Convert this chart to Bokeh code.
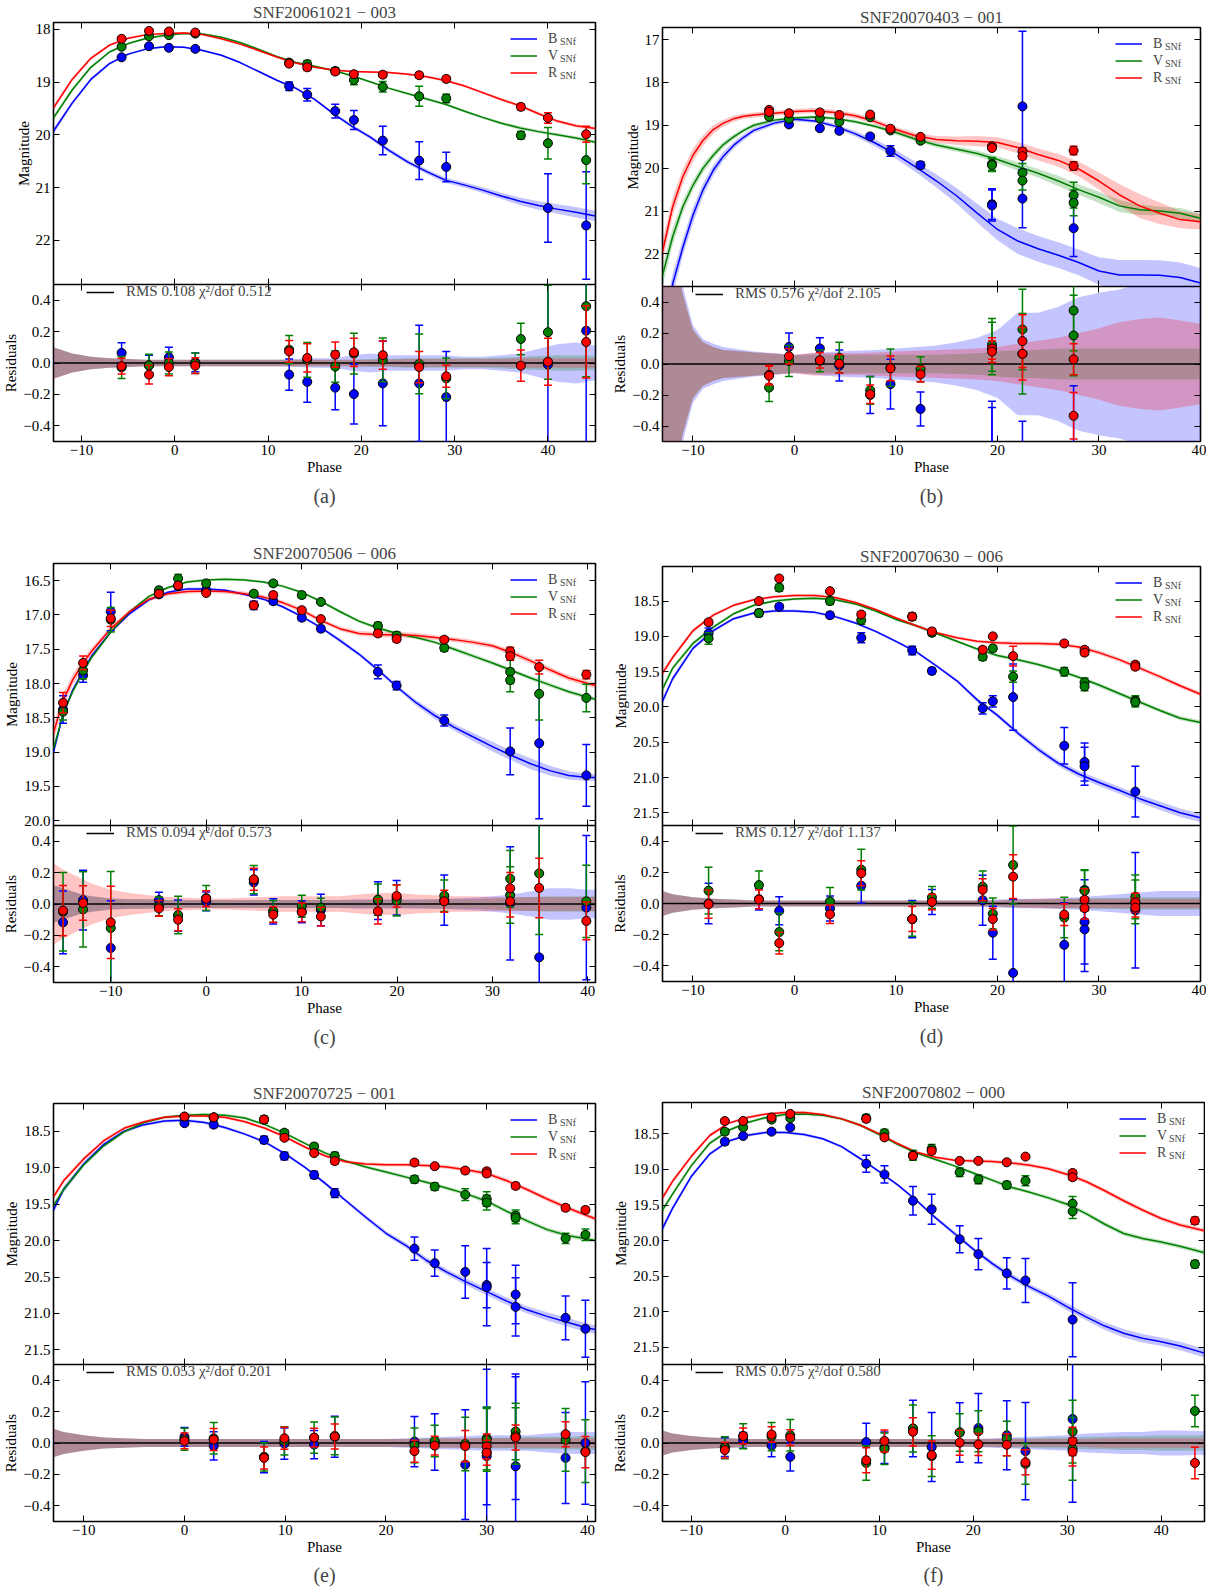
from bokeh.plotting import figure
from bokeh.models import Range1d, FixedTicker, LinearAxis, Legend, LegendItem, Title
from bokeh.layouts import row, column
from bokeh.embed import file_html
from bokeh.resources import INLINE

FONT = "Liberation Serif"
BLUE, GREEN, RED = "#0000ff", "#008000", "#ff0000"

X_TICKS = [-10, 0, 10, 20, 30, 40]
RES_TICKS = [-0.4, -0.2, 0.0, 0.2, 0.4]
RES_RANGE = [-0.5, 0.5]
BAND_LETTERS = ["B", "V", "R"]
BAND_SUB = "SNf"

# ---------------- panel (a) ----------------
A_NAME = "SNF20061021 \u2212 003"
A_STAT = "RMS 0.108 \u03c7\u00b2/dof 0.512"
A_XR = [-13.0, 45.1]
A_YR = [22.84, 17.87]
A_YT = [18, 19, 20, 21, 22]
A_B_PH = [-5.7, -2.76, -0.63, 2.2, 12.26, 14.2, 17.2, 19.2, 22.3, 26.2, 29.1, 40.0, 44.1]
A_B_MAG = [18.53, 18.32, 18.35, 18.37, 19.08, 19.24, 19.55, 19.72, 20.11, 20.49, 20.61, 21.39, 21.72]
A_B_ERR = [0.04, 0.04, 0.04, 0.04, 0.08, 0.12, 0.13, 0.18, 0.27, 0.36, 0.28, 0.65, 1.02]
A_B_RES = [0.064, -0.015, 0.036, 0.004, -0.074, -0.12, -0.157, -0.198, -0.13, -0.13, -0.217, -0.01, 0.206]
A_B_RERR = [0.065, 0.065, 0.065, 0.06, 0.1, 0.13, 0.14, 0.19, 0.27, 0.37, 0.29, 0.65, 1.0]
A_V_PH = [-5.7, -2.76, -0.63, 2.2, 12.26, 14.2, 17.2, 19.2, 22.3, 26.2, 29.1, 37.1, 40.0, 44.1]
A_V_MAG = [18.33, 18.13, 18.11, 18.08, 18.63, 18.66, 18.79, 18.96, 19.09, 19.27, 19.31, 20.01, 20.16, 20.48]
A_V_ERR = [0.03, 0.03, 0.03, 0.03, 0.05, 0.07, 0.06, 0.09, 0.1, 0.19, 0.08, 0.07, 0.3, 0.45]
A_V_RES = [-0.028, -0.015, 0.0, -0.002, 0.085, 0.02, -0.023, 0.06, 0.02, -0.006, -0.098, 0.153, 0.196, 0.362]
A_V_RERR = [0.07, 0.07, 0.07, 0.065, 0.09, 0.11, 0.1, 0.13, 0.14, 0.19, 0.13, 0.1, 0.3, 0.45]
A_R_PH = [-5.7, -2.76, -0.63, 2.2, 12.26, 14.2, 17.2, 19.2, 22.3, 26.2, 29.1, 37.1, 40.0, 44.1]
A_R_MAG = [18.18, 18.03, 18.04, 18.06, 18.65, 18.72, 18.80, 18.85, 18.86, 18.87, 18.94, 19.47, 19.68, 19.99]
A_R_ERR = [0.03, 0.03, 0.03, 0.03, 0.05, 0.06, 0.05, 0.05, 0.05, 0.05, 0.05, 0.06, 0.1, 0.15]
A_R_RES = [-0.02, -0.074, -0.026, -0.017, 0.074, 0.032, 0.053, 0.068, 0.05, -0.026, -0.085, -0.017, 0.008, 0.134]
A_R_RERR = [0.05, 0.06, 0.055, 0.05, 0.07, 0.09, 0.08, 0.09, 0.09, 0.1, 0.07, 0.1, 0.15, 0.23]
A_GRID = [-13, -11, -9, -7, -5, -3, -1, 1, 3, 5, 7, 9, 11, 13, 15, 17, 19, 21, 23, 25, 27, 29, 31, 33, 35, 37, 39, 41, 43, 45.1]
A_CB = [19.93, 19.4, 18.95, 18.65, 18.47, 18.37, 18.33, 18.34, 18.40, 18.49, 18.63, 18.80, 18.97, 19.12, 19.33, 19.6, 19.84, 20.05, 20.3, 20.52, 20.7, 20.86, 20.95, 21.05, 21.16, 21.26, 21.34, 21.41, 21.47, 21.54]
A_CV = [19.68, 19.15, 18.72, 18.43, 18.27, 18.17, 18.11, 18.08, 18.09, 18.15, 18.25, 18.38, 18.52, 18.63, 18.7, 18.78, 18.88, 19.0, 19.12, 19.22, 19.32, 19.42, 19.55, 19.67, 19.78, 19.87, 19.94, 20.0, 20.06, 20.14]
A_CR = [19.49, 18.95, 18.55, 18.3, 18.17, 18.1, 18.08, 18.07, 18.1, 18.18, 18.28, 18.4, 18.53, 18.64, 18.72, 18.77, 18.8, 18.81, 18.82, 18.85, 18.9, 18.97, 19.07, 19.2, 19.33, 19.45, 19.6, 19.74, 19.83, 19.88]
A_SB = [0.06, 0.04, 0.03, 0.025, 0.02, 0.02, 0.02, 0.02, 0.02, 0.02, 0.02, 0.02, 0.02, 0.025, 0.025, 0.03, 0.03, 0.035, 0.04, 0.04, 0.045, 0.05, 0.05, 0.055, 0.06, 0.07, 0.08, 0.09, 0.1, 0.1]
A_SV = [0.05, 0.04, 0.03, 0.025, 0.02, 0.02, 0.02, 0.02, 0.02, 0.02, 0.02, 0.02, 0.02, 0.02, 0.02, 0.02, 0.02, 0.02, 0.02, 0.02, 0.025, 0.025, 0.025, 0.025, 0.03, 0.03, 0.03, 0.03, 0.03, 0.03]
A_SR = [0.05, 0.04, 0.03, 0.025, 0.02, 0.02, 0.02, 0.02, 0.02, 0.02, 0.02, 0.02, 0.02, 0.02, 0.02, 0.02, 0.02, 0.02, 0.02, 0.02, 0.025, 0.025, 0.025, 0.025, 0.03, 0.03, 0.03, 0.03, 0.03, 0.03]
A_RB = [0.1, 0.06, 0.04, 0.03, 0.025, 0.02, 0.02, 0.02, 0.02, 0.02, 0.02, 0.02, 0.02, 0.025, 0.03, 0.03, 0.05, 0.06, 0.05, 0.05, 0.05, 0.05, 0.04, 0.04, 0.05, 0.06, 0.09, 0.12, 0.13, 0.11]
A_RV = [0.1, 0.06, 0.04, 0.03, 0.025, 0.02, 0.02, 0.02, 0.02, 0.02, 0.02, 0.02, 0.02, 0.02, 0.02, 0.02, 0.02, 0.025, 0.025, 0.03, 0.03, 0.03, 0.03, 0.03, 0.035, 0.04, 0.045, 0.05, 0.05, 0.045]
A_RR = [0.1, 0.06, 0.04, 0.03, 0.025, 0.02, 0.02, 0.02, 0.02, 0.02, 0.02, 0.02, 0.02, 0.02, 0.02, 0.02, 0.02, 0.02, 0.02, 0.025, 0.025, 0.025, 0.025, 0.025, 0.025, 0.03, 0.03, 0.03, 0.03, 0.03]

# ---------------- panel (b) ----------------
B_NAME = "SNF20070403 \u2212 001"
B_STAT = "RMS 0.576 \u03c7\u00b2/dof 2.105"
B_XR = [-13.0, 40.0]
B_YR = [22.76, 16.72]
B_YT = [17, 18, 19, 20, 21, 22]
B_B_PH = [-0.54, 2.5, 4.42, 7.46, 9.46, 12.42, 19.46, 19.46, 22.46, 22.46, 27.5]
B_B_MAG = [18.98, 19.07, 19.13, 19.26, 19.6, 19.93, 20.84, 20.87, 18.56, 20.71, 21.40]
B_B_ERR = [0.03, 0.04, 0.05, 0.06, 0.12, 0.08, 0.36, 0.36, 1.75, 0.68, 0.66]
B_B_RES = [0.11, 0.1, -0.01, -0.2, -0.13, -0.29, -0.62, -0.66, 3.1, -1.05, -0.8]
B_B_RERR = [0.09, 0.07, 0.1, 0.12, 0.16, 0.11, 0.38, 0.38, 1.75, 0.68, 0.66]
B_V_PH = [-2.5, -0.54, 2.5, 4.42, 7.46, 9.46, 12.42, 19.46, 19.46, 22.46, 22.46, 27.5, 27.5]
B_V_MAG = [18.8, 18.85, 18.84, 18.92, 18.81, 19.12, 19.36, 19.90, 19.93, 20.11, 20.29, 20.63, 20.81]
B_V_ERR = [0.03, 0.03, 0.03, 0.03, 0.03, 0.04, 0.04, 0.15, 0.15, 0.22, 0.22, 0.3, 0.3]
B_V_RES = [-0.152, 0.019, 0.02, 0.04, -0.17, -0.024, -0.034, 0.124, 0.1, 0.223, 0.066, 0.345, 0.184]
B_V_RERR = [0.09, 0.1, 0.07, 0.1, 0.09, 0.12, 0.08, 0.17, 0.17, 0.26, 0.26, 0.26, 0.26]
B_R_PH = [-2.5, -2.5, -0.54, 2.5, 4.42, 7.46, 9.46, 12.42, 19.46, 19.46, 22.46, 22.46, 27.5, 27.5]
B_R_MAG = [18.64, 18.69, 18.72, 18.7, 18.76, 18.75, 19.08, 19.27, 19.49, 19.53, 19.61, 19.72, 19.59, 19.95]
B_R_ERR = [0.03, 0.03, 0.03, 0.03, 0.03, 0.04, 0.04, 0.04, 0.05, 0.05, 0.08, 0.08, 0.1, 0.1]
B_R_RES = [-0.07, -0.075, 0.05, 0.024, 0.002, -0.195, -0.028, -0.066, 0.1, 0.08, 0.148, 0.066, 0.03, -0.334]
B_R_RERR = [0.06, 0.06, 0.05, 0.05, 0.06, 0.06, 0.08, 0.05, 0.07, 0.07, 0.17, 0.17, 0.1, 0.15]
B_GRID = [-13, -12, -11, -10, -9, -8, -7, -6, -5, -4, -2, 0, 2, 4, 6, 8, 10, 12, 14, 16, 18, 20, 22, 24, 26, 28, 30, 32, 34, 36, 38, 40]
B_CB = [24.0, 22.7, 21.85, 21.1, 20.5, 20.05, 19.72, 19.47, 19.28, 19.12, 18.95, 18.86, 18.9, 19.02, 19.2, 19.42, 19.68, 19.98, 20.3, 20.65, 21.05, 21.43, 21.7, 21.88, 22.03, 22.2, 22.4, 22.49, 22.49, 22.5, 22.55, 22.68]
B_CV = [22.5, 21.6, 20.9, 20.4, 20.0, 19.7, 19.45, 19.27, 19.12, 19.0, 18.88, 18.83, 18.81, 18.84, 18.92, 19.03, 19.17, 19.33, 19.46, 19.56, 19.66, 19.8, 19.96, 20.12, 20.3, 20.5, 20.68, 20.88, 20.97, 21.0, 21.05, 21.17]
B_CR = [21.95, 20.9, 20.2, 19.7, 19.35, 19.1, 18.95, 18.85, 18.79, 18.76, 18.72, 18.68, 18.66, 18.7, 18.78, 18.92, 19.1, 19.25, 19.33, 19.36, 19.37, 19.4, 19.52, 19.68, 19.82, 20.02, 20.3, 20.62, 20.88, 21.05, 21.2, 21.25]
B_SB = [0.3, 0.25, 0.2, 0.18, 0.15, 0.12, 0.1, 0.08, 0.07, 0.06, 0.05, 0.05, 0.05, 0.05, 0.06, 0.08, 0.1, 0.12, 0.15, 0.18, 0.22, 0.25, 0.3, 0.3, 0.3, 0.3, 0.32, 0.35, 0.35, 0.35, 0.35, 0.35]
B_SV = [0.25, 0.2, 0.15, 0.12, 0.1, 0.08, 0.07, 0.06, 0.05, 0.05, 0.04, 0.04, 0.04, 0.04, 0.04, 0.04, 0.05, 0.05, 0.06, 0.06, 0.07, 0.08, 0.1, 0.1, 0.12, 0.12, 0.13, 0.14, 0.12, 0.1, 0.12, 0.12]
B_SR = [0.25, 0.22, 0.18, 0.15, 0.12, 0.1, 0.08, 0.07, 0.06, 0.06, 0.06, 0.06, 0.06, 0.06, 0.06, 0.06, 0.06, 0.07, 0.08, 0.1, 0.12, 0.12, 0.13, 0.14, 0.15, 0.17, 0.2, 0.25, 0.28, 0.25, 0.2, 0.18]
B_RB = [1.5, 0.9, 0.5, 0.25, 0.16, 0.13, 0.11, 0.1, 0.09, 0.08, 0.07, 0.06, 0.07, 0.08, 0.085, 0.09, 0.1, 0.11, 0.12, 0.14, 0.17, 0.22, 0.33, 0.33, 0.37, 0.43, 0.46, 0.48, 0.52, 0.55, 0.53, 0.49]
B_RV = [1.5, 0.85, 0.45, 0.22, 0.14, 0.11, 0.09, 0.085, 0.08, 0.075, 0.065, 0.055, 0.06, 0.06, 0.06, 0.06, 0.06, 0.06, 0.06, 0.065, 0.07, 0.08, 0.09, 0.09, 0.1, 0.1, 0.1, 0.1, 0.1, 0.1, 0.1, 0.1]
B_RR = [1.5, 0.8, 0.45, 0.22, 0.14, 0.11, 0.09, 0.085, 0.08, 0.075, 0.07, 0.06, 0.075, 0.07, 0.07, 0.075, 0.08, 0.085, 0.09, 0.095, 0.1, 0.11, 0.13, 0.15, 0.17, 0.2, 0.23, 0.27, 0.29, 0.3, 0.28, 0.26]

# ---------------- panel (c) ----------------
C_NAME = "SNF20070506 \u2212 006"
C_STAT = "RMS 0.094 \u03c7\u00b2/dof 0.573"
C_XR = [-16.0, 40.8]
C_YR = [20.07, 16.25]
C_YT = [16.5, 17.0, 17.5, 18.0, 18.5, 19.0, 19.5, 20.0]
C_B_PH = [-15, -12.9, -10, -4.95, -2.94, 0, 4.99, 7.03, 10.02, 12.02, 18.0, 19.96, 24.95, 31.86, 34.9, 39.84]
C_B_MAG = [18.38, 17.88, 16.95, 16.70, 16.58, 16.64, 16.86, 16.8, 17.04, 17.2, 17.83, 18.03, 18.54, 18.99, 18.87, 19.34]
C_B_ERR = [0.2, 0.1, 0.28, 0.04, 0.04, 0.04, 0.06, 0.04, 0.04, 0.04, 0.1, 0.06, 0.08, 0.34, 1.1, 0.45]
C_B_RES = [-0.117, 0.025, -0.28, 0.025, -0.074, 0.017, 0.138, -0.047, -0.049, -0.038, 0.021, 0.04, 0.025, 0.004, -0.34, -0.023]
C_B_RERR = [0.2, 0.19, 0.3, 0.05, 0.1, 0.06, 0.08, 0.08, 0.07, 0.1, 0.12, 0.11, 0.16, 0.36, 1.1, 0.46]
C_V_PH = [-15, -12.9, -10, -4.95, -2.94, 0, 4.99, 7.03, 10.02, 12.02, 18.0, 19.96, 24.95, 31.86, 31.86, 34.9, 39.84]
C_V_MAG = [18.41, 17.81, 17.07, 16.64, 16.47, 16.54, 16.69, 16.54, 16.71, 16.81, 17.16, 17.3, 17.48, 17.83, 17.95, 18.15, 18.21]
C_V_ERR = [0.12, 0.12, 0.18, 0.04, 0.06, 0.04, 0.04, 0.04, 0.04, 0.03, 0.05, 0.05, 0.05, 0.17, 0.17, 0.38, 0.2]
C_V_RES = [-0.05, -0.034, -0.153, -0.015, -0.07, 0.038, 0.155, -0.047, -0.015, -0.023, 0.028, 0.023, 0.053, 0.161, 0.057, 0.195, 0.017]
C_V_RERR = [0.25, 0.24, 0.36, 0.06, 0.12, 0.08, 0.09, 0.07, 0.07, 0.06, 0.1, 0.1, 0.1, 0.18, 0.18, 0.39, 0.23]
C_R_PH = [-15, -12.9, -10, -4.95, -2.94, 0, 4.99, 7.03, 10.02, 12.02, 18.0, 19.96, 24.95, 31.86, 31.86, 34.9, 39.84]
C_R_MAG = [18.28, 17.7, 17.05, 16.69, 16.57, 16.68, 16.86, 16.71, 16.93, 17.06, 17.27, 17.35, 17.36, 17.53, 17.6, 17.76, 17.87]
C_R_ERR = [0.15, 0.1, 0.12, 0.03, 0.04, 0.03, 0.05, 0.04, 0.04, 0.03, 0.04, 0.04, 0.04, 0.06, 0.06, 0.1, 0.06]
C_R_RES = [-0.042, 0.006, -0.117, -0.028, -0.1, 0.034, 0.157, -0.068, -0.053, -0.08, -0.047, 0.051, 0.017, 0.1, 0.017, 0.102, -0.108]
C_R_RERR = [0.16, 0.11, 0.23, 0.05, 0.07, 0.05, 0.07, 0.05, 0.06, 0.06, 0.08, 0.07, 0.07, 0.1, 0.1, 0.19, 0.12]
C_GRID = [-16, -15, -14, -13, -12, -10, -8, -6, -4, -2, 0, 2, 4, 6, 8, 10, 12, 14, 16, 18, 20, 22, 24, 26, 28, 30, 32, 34, 36, 38, 40, 40.8]
C_CB = [19.0, 18.45, 18.1, 17.84, 17.6, 17.25, 16.98, 16.78, 16.67, 16.62, 16.62, 16.64, 16.7, 16.77, 16.88, 17.02, 17.18, 17.37, 17.57, 17.8, 18.05, 18.28, 18.47, 18.64, 18.78, 18.92, 19.05, 19.17, 19.27, 19.34, 19.37, 19.37]
C_CV = [18.95, 18.45, 18.12, 17.86, 17.62, 17.25, 16.95, 16.73, 16.6, 16.52, 16.49, 16.48, 16.49, 16.52, 16.58, 16.67, 16.8, 16.95, 17.09, 17.19, 17.27, 17.33, 17.4, 17.5, 17.6, 17.7, 17.81, 17.92, 18.02, 18.12, 18.2, 18.23]
C_CR = [18.72, 18.25, 17.95, 17.72, 17.53, 17.2, 16.95, 16.77, 16.69, 16.66, 16.65, 16.66, 16.69, 16.74, 16.82, 16.93, 17.08, 17.2, 17.27, 17.29, 17.29, 17.3, 17.33, 17.36, 17.4, 17.45, 17.55, 17.67, 17.8, 17.92, 18.0, 18.03]
C_SB = [0.05, 0.04, 0.03, 0.03, 0.03, 0.02, 0.02, 0.02, 0.02, 0.02, 0.02, 0.02, 0.02, 0.02, 0.02, 0.02, 0.02, 0.03, 0.03, 0.03, 0.03, 0.04, 0.05, 0.05, 0.06, 0.07, 0.07, 0.08, 0.07, 0.06, 0.05, 0.05]
C_SV = [0.04, 0.035, 0.03, 0.03, 0.025, 0.02, 0.02, 0.02, 0.02, 0.02, 0.02, 0.02, 0.02, 0.02, 0.02, 0.02, 0.02, 0.025, 0.025, 0.025, 0.025, 0.025, 0.025, 0.03, 0.03, 0.03, 0.03, 0.03, 0.03, 0.03, 0.03, 0.03]
C_SR = [0.12, 0.1, 0.08, 0.06, 0.05, 0.04, 0.03, 0.03, 0.03, 0.03, 0.03, 0.03, 0.03, 0.03, 0.03, 0.03, 0.03, 0.03, 0.035, 0.04, 0.04, 0.04, 0.035, 0.035, 0.035, 0.035, 0.04, 0.04, 0.04, 0.04, 0.04, 0.04]
C_RB = [0.12, 0.1, 0.08, 0.06, 0.05, 0.035, 0.03, 0.03, 0.025, 0.025, 0.025, 0.025, 0.025, 0.025, 0.025, 0.025, 0.025, 0.025, 0.03, 0.03, 0.03, 0.03, 0.03, 0.035, 0.04, 0.05, 0.06, 0.08, 0.1, 0.1, 0.09, 0.09]
C_RV = [0.12, 0.1, 0.08, 0.06, 0.05, 0.035, 0.03, 0.03, 0.025, 0.025, 0.025, 0.025, 0.025, 0.025, 0.025, 0.025, 0.025, 0.025, 0.025, 0.025, 0.025, 0.025, 0.03, 0.03, 0.03, 0.035, 0.04, 0.045, 0.05, 0.05, 0.05, 0.05]
C_RR = [0.26, 0.22, 0.19, 0.16, 0.13, 0.09, 0.07, 0.055, 0.045, 0.04, 0.035, 0.035, 0.04, 0.045, 0.05, 0.05, 0.05, 0.05, 0.06, 0.07, 0.07, 0.06, 0.055, 0.05, 0.05, 0.045, 0.045, 0.045, 0.045, 0.045, 0.045, 0.045]

# ---------------- panel (d) ----------------
D_NAME = "SNF20070630 \u2212 006"
D_STAT = "RMS 0.127 \u03c7\u00b2/dof 1.137"
D_XR = [-13.0, 40.0]
D_YR = [21.68, 18.01]
D_YT = [18.5, 19.0, 19.5, 20.0, 20.5, 21.0, 21.5]
D_B_PH = [-8.46, -3.5, -1.5, 3.5, 6.58, 11.6, 13.54, 18.54, 19.54, 21.54, 26.58, 28.58, 28.58, 33.58]
D_B_MAG = [18.96, 18.67, 18.58, 18.7, 19.02, 19.2, 19.49, 20.02, 19.92, 19.86, 20.55, 20.78, 20.84, 21.2]
D_B_ERR = [0.08, 0.05, 0.04, 0.04, 0.07, 0.06, 0.04, 0.08, 0.08, 0.47, 0.26, 0.27, 0.27, 0.36]
D_B_RES = [0.0, 0.028, -0.047, -0.032, 0.114, -0.1, 0.01, 0.021, -0.187, -0.445, -0.265, -0.118, -0.166, -0.043]
D_B_RERR = [0.13, 0.07, 0.09, 0.08, 0.11, 0.12, 0.08, 0.16, 0.17, 0.47, 0.27, 0.27, 0.27, 0.37]
D_V_PH = [-8.46, -3.5, -1.5, 3.5, 6.58, 11.6, 13.54, 18.54, 19.54, 21.54, 26.58, 28.58, 28.58, 33.58, 33.58]
D_V_MAG = [19.03, 18.67, 18.31, 18.5, 18.77, 18.72, 18.95, 19.29, 19.17, 19.57, 19.5, 19.65, 19.71, 19.91, 19.93]
D_V_ERR = [0.08, 0.04, 0.05, 0.05, 0.06, 0.05, 0.04, 0.05, 0.04, 0.08, 0.06, 0.06, 0.06, 0.07, 0.07]
D_V_RES = [0.082, 0.118, -0.183, 0.013, 0.217, -0.1, 0.039, 0.108, -0.065, 0.247, -0.09, 0.086, 0.082, 0.043, 0.01]
D_V_RERR = [0.15, 0.09, 0.12, 0.09, 0.13, 0.11, 0.07, 0.1, 0.1, 0.25, 0.13, 0.13, 0.13, 0.14, 0.14]
D_R_PH = [-8.46, -3.5, -1.5, 3.5, 6.58, 11.6, 13.54, 18.54, 19.54, 21.54, 26.58, 28.58, 28.58, 33.58, 33.58]
D_R_MAG = [18.8, 18.5, 18.18, 18.36, 18.69, 18.72, 18.93, 19.19, 19.0, 19.28, 19.1, 19.19, 19.23, 19.4, 19.43]
D_R_ERR = [0.04, 0.03, 0.03, 0.03, 0.04, 0.04, 0.04, 0.04, 0.03, 0.14, 0.03, 0.04, 0.04, 0.04, 0.04]
D_R_RES = [-0.004, 0.026, -0.254, -0.069, 0.194, -0.1, 0.01, 0.088, -0.1, 0.172, -0.071, 0.024, -0.03, 0.006, -0.026]
D_R_RERR = [0.09, 0.06, 0.07, 0.06, 0.08, 0.08, 0.05, 0.07, 0.07, 0.14, 0.07, 0.07, 0.07, 0.06, 0.06]
D_GRID = [-13, -12, -10, -8, -6, -4, -2, 0, 2, 4, 6, 8, 10, 12, 14, 16, 18, 20, 22, 24, 26, 28, 30, 32, 34, 36, 38, 40]
D_CB = [19.92, 19.6, 19.17, 18.92, 18.75, 18.67, 18.64, 18.64, 18.66, 18.72, 18.81, 18.93, 19.07, 19.22, 19.42, 19.63, 19.9, 20.12, 20.37, 20.6, 20.8, 20.95, 21.07, 21.18, 21.3, 21.4, 21.5, 21.57]
D_CV = [19.75, 19.45, 19.1, 18.87, 18.68, 18.56, 18.5, 18.47, 18.46, 18.48, 18.54, 18.64, 18.76, 18.85, 18.96, 19.07, 19.18, 19.27, 19.33, 19.4, 19.48, 19.58, 19.69, 19.81, 19.93, 20.05, 20.16, 20.22]
D_CR = [19.52, 19.3, 18.92, 18.7, 18.56, 18.48, 18.44, 18.42, 18.42, 18.45, 18.52, 18.62, 18.74, 18.85, 18.95, 19.02, 19.07, 19.09, 19.1, 19.1, 19.11, 19.15, 19.23, 19.33, 19.45, 19.57, 19.7, 19.82]
D_SB = [0.05, 0.04, 0.03, 0.025, 0.02, 0.02, 0.02, 0.02, 0.02, 0.02, 0.02, 0.02, 0.02, 0.02, 0.025, 0.025, 0.03, 0.03, 0.035, 0.04, 0.04, 0.045, 0.05, 0.05, 0.055, 0.06, 0.06, 0.06]
D_SV = [0.04, 0.035, 0.03, 0.025, 0.02, 0.02, 0.02, 0.02, 0.02, 0.02, 0.02, 0.02, 0.02, 0.02, 0.02, 0.02, 0.02, 0.025, 0.025, 0.025, 0.025, 0.025, 0.03, 0.03, 0.03, 0.03, 0.03, 0.03]
D_SR = [0.04, 0.035, 0.03, 0.025, 0.02, 0.02, 0.02, 0.02, 0.02, 0.02, 0.02, 0.02, 0.02, 0.02, 0.02, 0.02, 0.02, 0.025, 0.025, 0.025, 0.025, 0.025, 0.03, 0.03, 0.03, 0.03, 0.03, 0.03]
D_RB = [0.08, 0.06, 0.04, 0.03, 0.025, 0.02, 0.02, 0.02, 0.02, 0.02, 0.02, 0.02, 0.02, 0.02, 0.02, 0.02, 0.02, 0.025, 0.03, 0.03, 0.035, 0.04, 0.05, 0.06, 0.07, 0.08, 0.08, 0.08]
D_RV = [0.08, 0.06, 0.04, 0.03, 0.025, 0.02, 0.02, 0.02, 0.02, 0.02, 0.02, 0.02, 0.02, 0.02, 0.02, 0.02, 0.02, 0.02, 0.025, 0.025, 0.03, 0.03, 0.035, 0.035, 0.04, 0.04, 0.04, 0.04]
D_RR = [0.08, 0.06, 0.04, 0.03, 0.025, 0.02, 0.02, 0.02, 0.02, 0.02, 0.02, 0.02, 0.02, 0.02, 0.02, 0.02, 0.02, 0.02, 0.025, 0.03, 0.03, 0.03, 0.03, 0.03, 0.03, 0.03, 0.03, 0.03]

# ---------------- panel (e) ----------------
E_NAME = "SNF20070725 \u2212 001"
E_STAT = "RMS 0.053 \u03c7\u00b2/dof 0.201"
E_XR = [-13.0, 40.8]
E_YR = [21.7, 18.12]
E_YT = [18.5, 19.0, 19.5, 20.0, 20.5, 21.0, 21.5]
E_B_PH = [0, 2.9, 7.9, 9.92, 12.87, 14.92, 22.83, 24.84, 27.87, 30.0, 30.0, 32.87, 32.87, 37.83, 39.8]
E_B_MAG = [18.39, 18.41, 18.62, 18.84, 19.1, 19.35, 20.11, 20.31, 20.43, 20.61, 20.64, 20.74, 20.91, 21.06, 21.21]
E_B_ERR = [0.03, 0.04, 0.05, 0.05, 0.05, 0.06, 0.16, 0.18, 0.36, 0.31, 0.53, 0.4, 0.4, 0.3, 0.39]
E_B_RES = [0.039, -0.019, -0.09, -0.004, -0.01, 0.04, 0.009, 0.006, -0.138, -0.084, -0.06, -0.148, 0.04, -0.095, 0.0]
E_B_RERR = [0.06, 0.09, 0.1, 0.1, 0.09, 0.13, 0.16, 0.18, 0.35, 0.31, 0.53, 0.57, 0.4, 0.29, 0.39]
E_V_PH = [0, 2.9, 7.9, 9.92, 12.87, 14.92, 22.83, 24.84, 27.87, 30.0, 30.0, 32.87, 32.87, 37.83, 39.8]
E_V_MAG = [18.3, 18.31, 18.34, 18.52, 18.71, 18.84, 19.16, 19.26, 19.37, 19.43, 19.48, 19.66, 19.69, 19.97, 19.92]
E_V_ERR = [0.03, 0.04, 0.05, 0.04, 0.04, 0.05, 0.05, 0.05, 0.08, 0.1, 0.1, 0.08, 0.08, 0.07, 0.08]
E_V_RES = [0.024, 0.03, -0.088, 0.013, 0.034, 0.045, -0.015, 0.013, -0.006, 0.03, 0.02, 0.073, 0.045, 0.02, -0.052]
E_V_RERR = [0.07, 0.1, 0.09, 0.09, 0.1, 0.12, 0.11, 0.1, 0.17, 0.2, 0.2, 0.18, 0.18, 0.2, 0.2]
E_R_PH = [0, 2.9, 7.9, 9.92, 12.87, 14.92, 22.83, 24.84, 27.87, 30.0, 30.0, 32.87, 37.83, 39.8]
E_R_MAG = [18.3, 18.31, 18.34, 18.59, 18.8, 18.91, 18.93, 18.98, 19.04, 19.05, 19.08, 19.25, 19.55, 19.58]
E_R_ERR = [0.03, 0.03, 0.03, 0.03, 0.03, 0.04, 0.03, 0.03, 0.04, 0.04, 0.04, 0.04, 0.04, 0.04]
E_R_RES = [0.013, 0.022, -0.095, 0.03, 0.034, 0.041, -0.052, -0.017, -0.02, -0.022, -0.062, 0.035, 0.056, -0.058]
E_R_RERR = [0.05, 0.07, 0.07, 0.07, 0.06, 0.08, 0.07, 0.06, 0.1, 0.08, 0.08, 0.08, 0.08, 0.1]
E_GRID = [-13, -12, -10, -8, -6, -4, -2, 0, 2, 4, 6, 8, 10, 12, 14, 16, 18, 20, 22, 24, 26, 28, 30, 32, 34, 36, 38, 40, 40.8]
E_CB = [19.58, 19.3, 18.95, 18.68, 18.5, 18.41, 18.36, 18.35, 18.38, 18.45, 18.54, 18.65, 18.81, 19.0, 19.22, 19.45, 19.68, 19.9, 20.07, 20.27, 20.43, 20.57, 20.7, 20.83, 20.95, 21.04, 21.12, 21.2, 21.22]
E_CV = [19.52, 19.3, 18.96, 18.7, 18.51, 18.38, 18.31, 18.28, 18.27, 18.28, 18.32, 18.41, 18.53, 18.67, 18.8, 18.91, 18.99, 19.06, 19.13, 19.2, 19.28, 19.36, 19.46, 19.6, 19.73, 19.85, 19.93, 19.98, 20.0]
E_CR = [19.4, 19.18, 18.88, 18.63, 18.46, 18.37, 18.31, 18.29, 18.29, 18.31, 18.37, 18.46, 18.58, 18.72, 18.84, 18.92, 18.95, 18.96, 18.96, 18.97, 18.99, 19.03, 19.08, 19.18, 19.3, 19.43, 19.55, 19.66, 19.7]
E_SB = [0.05, 0.04, 0.03, 0.025, 0.02, 0.02, 0.02, 0.02, 0.02, 0.02, 0.02, 0.02, 0.02, 0.02, 0.025, 0.025, 0.03, 0.03, 0.035, 0.04, 0.04, 0.045, 0.05, 0.05, 0.05, 0.055, 0.06, 0.06, 0.06]
E_SV = [0.04, 0.035, 0.03, 0.025, 0.02, 0.02, 0.02, 0.02, 0.02, 0.02, 0.02, 0.02, 0.02, 0.02, 0.02, 0.02, 0.02, 0.025, 0.025, 0.025, 0.025, 0.025, 0.03, 0.03, 0.03, 0.03, 0.03, 0.03, 0.03]
E_SR = [0.04, 0.035, 0.03, 0.025, 0.02, 0.02, 0.02, 0.02, 0.02, 0.02, 0.02, 0.02, 0.02, 0.02, 0.02, 0.02, 0.02, 0.025, 0.025, 0.025, 0.025, 0.025, 0.03, 0.03, 0.03, 0.03, 0.03, 0.03, 0.03]
E_RB = [0.09, 0.07, 0.05, 0.035, 0.03, 0.025, 0.025, 0.025, 0.025, 0.025, 0.025, 0.025, 0.025, 0.025, 0.025, 0.025, 0.025, 0.025, 0.03, 0.035, 0.04, 0.045, 0.05, 0.05, 0.05, 0.06, 0.07, 0.07, 0.07]
E_RV = [0.09, 0.07, 0.05, 0.035, 0.03, 0.025, 0.025, 0.025, 0.025, 0.025, 0.025, 0.025, 0.025, 0.025, 0.025, 0.025, 0.025, 0.025, 0.025, 0.03, 0.03, 0.03, 0.035, 0.035, 0.04, 0.04, 0.04, 0.045, 0.045]
E_RR = [0.09, 0.07, 0.05, 0.035, 0.03, 0.025, 0.025, 0.025, 0.025, 0.025, 0.025, 0.025, 0.025, 0.025, 0.025, 0.025, 0.025, 0.025, 0.025, 0.025, 0.03, 0.03, 0.03, 0.03, 0.03, 0.03, 0.03, 0.03, 0.03]

# ---------------- panel (f) ----------------
F_NAME = "SNF20070802 \u2212 000"
F_STAT = "RMS 0.075 \u03c7\u00b2/dof 0.580"
F_XR = [-13.05, 44.6]
F_YR = [21.74, 18.06]
F_YT = [18.5, 19.0, 19.5, 20.0, 20.5, 21.0, 21.5]
F_B_PH = [-6.42, -4.47, -1.45, 0.54, 8.62, 10.56, 13.59, 15.58, 18.56, 20.55, 23.57, 25.56, 30.57]
F_B_MAG = [18.61, 18.53, 18.47, 18.41, 18.92, 19.07, 19.44, 19.56, 19.98, 20.19, 20.46, 20.56, 21.11]
F_B_ERR = [0.04, 0.03, 0.03, 0.03, 0.12, 0.12, 0.2, 0.21, 0.19, 0.22, 0.22, 0.31, 0.52]
F_B_RES = [-0.026, 0.017, -0.017, -0.088, 0.006, -0.03, 0.092, -0.026, 0.067, 0.095, 0.049, -0.052, 0.153]
F_B_RERR = [0.06, 0.05, 0.07, 0.09, 0.12, 0.1, 0.18, 0.22, 0.19, 0.22, 0.22, 0.31, 0.53]
F_V_PH = [-6.42, -4.47, -1.45, 0.54, 8.62, 10.56, 13.59, 15.58, 18.56, 20.55, 23.57, 25.56, 30.57, 30.57, 43.58]
F_V_MAG = [18.47, 18.41, 18.3, 18.28, 18.28, 18.49, 18.8, 18.71, 19.04, 19.14, 19.22, 19.16, 19.48, 19.59, 20.33]
F_V_ERR = [0.04, 0.03, 0.03, 0.03, 0.05, 0.05, 0.07, 0.06, 0.06, 0.06, 0.05, 0.07, 0.1, 0.1, 0.05]
F_V_RES = [-0.03, 0.043, 0.041, 0.049, -0.127, -0.037, 0.092, -0.084, 0.067, 0.075, 0.028, -0.133, 0.073, -0.037, 0.204]
F_V_RERR = [0.07, 0.08, 0.09, 0.1, 0.11, 0.1, 0.15, 0.13, 0.12, 0.13, 0.11, 0.13, 0.2, 0.2, 0.1]
F_R_PH = [-6.42, -4.47, -1.45, 0.54, 8.62, 10.56, 13.59, 15.58, 18.56, 20.55, 23.57, 25.56, 30.57, 30.57, 43.58]
F_R_MAG = [18.32, 18.32, 18.27, 18.22, 18.29, 18.55, 18.81, 18.74, 18.88, 18.88, 18.9, 18.82, 19.05, 19.11, 19.72]
F_R_ERR = [0.03, 0.03, 0.03, 0.03, 0.03, 0.03, 0.04, 0.04, 0.03, 0.03, 0.03, 0.03, 0.04, 0.04, 0.05]
F_R_RES = [-0.045, 0.045, 0.054, 0.034, -0.11, 0.013, 0.071, -0.077, 0.002, -0.009, -0.011, -0.123, 0.011, -0.056, -0.127]
F_R_RERR = [0.05, 0.05, 0.05, 0.05, 0.08, 0.07, 0.09, 0.09, 0.08, 0.07, 0.07, 0.08, 0.09, 0.09, 0.1]
F_GRID = [-13.05, -12, -10, -8, -6, -4, -2, 0, 2, 4, 6, 8, 10, 12, 14, 16, 18, 20, 22, 24, 26, 28, 30, 32, 34, 36, 38, 40, 42, 44.6]
F_CB = [19.83, 19.55, 19.1, 18.78, 18.6, 18.52, 18.48, 18.48, 18.51, 18.57, 18.68, 18.85, 19.03, 19.22, 19.44, 19.68, 19.9, 20.12, 20.32, 20.5, 20.65, 20.78, 20.93, 21.07, 21.2, 21.3, 21.37, 21.42, 21.48, 21.58]
F_CV = [19.57, 19.35, 18.95, 18.63, 18.45, 18.34, 18.27, 18.23, 18.22, 18.24, 18.29, 18.38, 18.51, 18.65, 18.77, 18.86, 18.95, 19.05, 19.15, 19.25, 19.32, 19.4, 19.49, 19.62, 19.77, 19.9, 19.97, 20.02, 20.08, 20.17]
F_CR = [19.4, 19.17, 18.82, 18.52, 18.35, 18.27, 18.22, 18.2, 18.2, 18.23, 18.29, 18.38, 18.5, 18.64, 18.76, 18.83, 18.87, 18.88, 18.89, 18.91, 18.94, 18.99, 19.07, 19.17, 19.3, 19.44, 19.57, 19.69, 19.78, 19.86]
F_SB = [0.05, 0.04, 0.03, 0.025, 0.02, 0.02, 0.02, 0.02, 0.02, 0.02, 0.02, 0.02, 0.02, 0.02, 0.025, 0.025, 0.03, 0.03, 0.035, 0.04, 0.04, 0.045, 0.05, 0.05, 0.055, 0.06, 0.06, 0.06, 0.06, 0.06]
F_SV = [0.04, 0.035, 0.03, 0.025, 0.02, 0.02, 0.02, 0.02, 0.02, 0.02, 0.02, 0.02, 0.02, 0.02, 0.02, 0.02, 0.02, 0.025, 0.025, 0.025, 0.025, 0.025, 0.03, 0.03, 0.03, 0.03, 0.03, 0.03, 0.03, 0.03]
F_SR = [0.04, 0.035, 0.03, 0.025, 0.02, 0.02, 0.02, 0.02, 0.02, 0.02, 0.02, 0.02, 0.02, 0.02, 0.02, 0.02, 0.02, 0.025, 0.025, 0.025, 0.025, 0.025, 0.03, 0.03, 0.03, 0.03, 0.03, 0.03, 0.03, 0.03]
F_RB = [0.08, 0.06, 0.045, 0.035, 0.03, 0.025, 0.025, 0.025, 0.025, 0.025, 0.025, 0.025, 0.025, 0.025, 0.025, 0.025, 0.025, 0.025, 0.03, 0.035, 0.04, 0.045, 0.05, 0.06, 0.065, 0.07, 0.07, 0.08, 0.08, 0.075]
F_RV = [0.08, 0.06, 0.045, 0.035, 0.03, 0.025, 0.025, 0.025, 0.025, 0.025, 0.025, 0.025, 0.025, 0.025, 0.025, 0.025, 0.025, 0.025, 0.025, 0.03, 0.03, 0.035, 0.035, 0.04, 0.04, 0.045, 0.045, 0.05, 0.05, 0.05]
F_RR = [0.08, 0.06, 0.045, 0.035, 0.03, 0.025, 0.025, 0.025, 0.025, 0.025, 0.025, 0.025, 0.025, 0.025, 0.025, 0.025, 0.025, 0.025, 0.025, 0.025, 0.025, 0.025, 0.025, 0.025, 0.03, 0.03, 0.03, 0.03, 0.03, 0.03]

PANELS = [
    dict(letter="a", name=A_NAME, stat=A_STAT, xr=A_XR, yr=A_YR, yt=A_YT, ydec=0,
         pts=[(A_B_PH, A_B_MAG, A_B_ERR, A_B_RES, A_B_RERR), (A_V_PH, A_V_MAG, A_V_ERR, A_V_RES, A_V_RERR), (A_R_PH, A_R_MAG, A_R_ERR, A_R_RES, A_R_RERR)],
         grid=A_GRID, curves=[A_CB, A_CV, A_CR], sig=[A_SB, A_SV, A_SR], rsig=[A_RB, A_RV, A_RR]),
    dict(letter="b", name=B_NAME, stat=B_STAT, xr=B_XR, yr=B_YR, yt=B_YT, ydec=0,
         pts=[(B_B_PH, B_B_MAG, B_B_ERR, B_B_RES, B_B_RERR), (B_V_PH, B_V_MAG, B_V_ERR, B_V_RES, B_V_RERR), (B_R_PH, B_R_MAG, B_R_ERR, B_R_RES, B_R_RERR)],
         grid=B_GRID, curves=[B_CB, B_CV, B_CR], sig=[B_SB, B_SV, B_SR], rsig=[B_RB, B_RV, B_RR]),
    dict(letter="c", name=C_NAME, stat=C_STAT, xr=C_XR, yr=C_YR, yt=C_YT, ydec=1,
         pts=[(C_B_PH, C_B_MAG, C_B_ERR, C_B_RES, C_B_RERR), (C_V_PH, C_V_MAG, C_V_ERR, C_V_RES, C_V_RERR), (C_R_PH, C_R_MAG, C_R_ERR, C_R_RES, C_R_RERR)],
         grid=C_GRID, curves=[C_CB, C_CV, C_CR], sig=[C_SB, C_SV, C_SR], rsig=[C_RB, C_RV, C_RR]),
    dict(letter="d", name=D_NAME, stat=D_STAT, xr=D_XR, yr=D_YR, yt=D_YT, ydec=1,
         pts=[(D_B_PH, D_B_MAG, D_B_ERR, D_B_RES, D_B_RERR), (D_V_PH, D_V_MAG, D_V_ERR, D_V_RES, D_V_RERR), (D_R_PH, D_R_MAG, D_R_ERR, D_R_RES, D_R_RERR)],
         grid=D_GRID, curves=[D_CB, D_CV, D_CR], sig=[D_SB, D_SV, D_SR], rsig=[D_RB, D_RV, D_RR]),
    dict(letter="e", name=E_NAME, stat=E_STAT, xr=E_XR, yr=E_YR, yt=E_YT, ydec=1,
         pts=[(E_B_PH, E_B_MAG, E_B_ERR, E_B_RES, E_B_RERR), (E_V_PH, E_V_MAG, E_V_ERR, E_V_RES, E_V_RERR), (E_R_PH, E_R_MAG, E_R_ERR, E_R_RES, E_R_RERR)],
         grid=E_GRID, curves=[E_CB, E_CV, E_CR], sig=[E_SB, E_SV, E_SR], rsig=[E_RB, E_RV, E_RR]),
    dict(letter="f", name=F_NAME, stat=F_STAT, xr=F_XR, yr=F_YR, yt=F_YT, ydec=1,
         pts=[(F_B_PH, F_B_MAG, F_B_ERR, F_B_RES, F_B_RERR), (F_V_PH, F_V_MAG, F_V_ERR, F_V_RES, F_V_RERR), (F_R_PH, F_R_MAG, F_R_ERR, F_R_RES, F_R_RERR)],
         grid=F_GRID, curves=[F_CB, F_CV, F_CR], sig=[F_SB, F_SV, F_SR], rsig=[F_RB, F_RV, F_RR]),
]

# layout (pixels): border_left, frame_width, border_right, border_top, h_top, h_res, border_bottom, caption standoff
LAYOUT = {
    "a": (51, 542, 14, 15, 262, 157, 88, 11),
    "b": (52, 538, 6, 27, 259, 155, 81, 11),
    "c": (51, 542, 14, 34, 262, 157, 82, 11),
    "d": (52, 538, 6, 37, 259, 156, 83, 11),
    "e": (51, 542, 14, 39, 261, 157, 65, 8),
    "f": (52, 542, 2, 38, 262, 157, 65, 8),
}
OVERLAP = 9
COLORS = [BLUE, GREEN, RED]


def fmt(v, dec):
    return (f"{v:.{dec}f}").replace("-", "\u2212")


def style_axis(ax, ticks, dec, show, label=None):
    ax.ticker = FixedTicker(ticks=ticks)
    ax.axis_line_color = None
    ax.major_tick_in = 6
    ax.major_tick_out = 0
    ax.major_tick_line_color = "black"
    ax.major_tick_line_width = 1
    ax.minor_tick_line_color = None
    ax.major_label_text_font = FONT
    if show:
        ax.major_label_overrides = {t: fmt(t, dec) for t in ticks}
        ax.major_label_text_color = "black"
        ax.major_label_text_font_size = "15px"
        ax.major_label_standoff = 3
    else:
        ax.major_label_text_color = None
        ax.major_label_text_font_size = "0px"
        ax.major_label_standoff = 0
    ax.axis_label = label
    ax.axis_label_text_font = FONT
    ax.axis_label_text_font_size = "15px"
    ax.axis_label_text_font_style = "normal"
    ax.axis_label_text_color = "black"
    ax.axis_label_standoff = 1


def base_fig(xr, yr, fw, fh, bl, br, bt, bb):
    p = figure(x_range=xr, y_range=yr, frame_width=fw, frame_height=fh,
               min_border_left=bl, min_border_right=br, min_border_top=bt, min_border_bottom=bb,
               output_backend="svg", toolbar_location=None, tools="")
    p.grid.visible = False
    p.outline_line_color = "black"
    p.outline_line_width = 1.6
    p.background_fill_color = "white"
    p.border_fill_color = "white"
    return p


def draw_points(p, ph, val, err, color):
    lo = [v - e for v, e in zip(val, err)]
    hi = [v + e for v, e in zip(val, err)]
    p.segment(x0=ph, y0=lo, x1=ph, y1=hi, line_color=color, line_width=1.5)
    p.scatter(x=ph + ph, y=lo + hi, marker="dash", size=8, line_color=color, line_width=1.5)
    p.scatter(x=ph, y=val, marker="circle", size=9, fill_color=color, line_color="black", line_width=1)


def make_panel(pn):
    bl, fw, br, bt, h1, h2, bb, cap = LAYOUT[pn["letter"]]
    xr = Range1d(pn["xr"][0], pn["xr"][1])
    # magnitude panel (its bottom border is overlapped by the residual panel)
    p1 = base_fig(xr, Range1d(pn["yr"][0], pn["yr"][1]), fw, h1, bl, br, bt, OVERLAP)
    p1.title.text = pn["name"]
    p1.title.align = "center"
    p1.title.text_font = FONT
    p1.title.text_font_size = "17px"
    p1.title.text_font_style = "normal"
    p1.title.standoff = 1
    style_axis(p1.xaxis[0], X_TICKS, 0, False)
    style_axis(p1.yaxis[0], pn["yt"], pn["ydec"], True, "Magnitude")
    top = LinearAxis()
    style_axis(top, X_TICKS, 0, False)
    p1.add_layout(top, "above")
    right = LinearAxis()
    style_axis(right, pn["yt"], pn["ydec"], False)
    p1.add_layout(right, "right")
    grid = pn["grid"]
    lines = []
    for curve, sig, col in zip(pn["curves"], pn["sig"], COLORS):
        p1.varea(x=grid, y1=[c - s for c, s in zip(curve, sig)], y2=[c + s for c, s in zip(curve, sig)],
                 fill_color=col, fill_alpha=0.23)
    for curve, col in zip(pn["curves"], COLORS):
        lines.append(p1.line(grid, curve, line_color=col, line_width=1.5))
    for (ph, mag, err, res, rerr), col in zip(pn["pts"], COLORS):
        draw_points(p1, ph, mag, err, col)
    leg = Legend(items=[LegendItem(label=n, renderers=[r]) for n, r in zip(BAND_LETTERS, lines)],
                 location=(fw - 85, h1 - 59), margin=0, padding=0, spacing=0,
                 label_height=17, glyph_height=17, glyph_width=27, label_standoff=11,
                 label_text_font=FONT, label_text_font_size="14px",
                 background_fill_alpha=0, border_line_alpha=0)
    p1.add_layout(leg)
    ghost = p1.line(x=[], y=[], line_alpha=0)
    leg_sub = Legend(items=[LegendItem(label=BAND_SUB, renderers=[ghost]) for _ in BAND_LETTERS],
                     location=(fw - 36, h1 - 62), margin=0, padding=0, spacing=0,
                     label_height=17, glyph_height=17, glyph_width=1, label_standoff=0,
                     label_text_font=FONT, label_text_font_size="10px",
                     background_fill_alpha=0, border_line_alpha=0)
    p1.add_layout(leg_sub)

    # residual panel
    p2 = base_fig(xr, Range1d(RES_RANGE[0], RES_RANGE[1]), fw, h2, bl, br, 0, bb)
    p2.border_fill_alpha = 0
    p2.margin = (-OVERLAP, 0, 0, 0)
    style_axis(p2.xaxis[0], X_TICKS, 0, True, "Phase")
    style_axis(p2.yaxis[0], RES_TICKS, 1, True, "Residuals")
    top2 = LinearAxis()
    style_axis(top2, X_TICKS, 0, False)
    p2.add_layout(top2, "above")
    right2 = LinearAxis()
    style_axis(right2, RES_TICKS, 1, False)
    p2.add_layout(right2, "right")
    for rs, col in zip(pn["rsig"], COLORS):
        p2.varea(x=grid, y1=[-s for s in rs], y2=rs, fill_color=col, fill_alpha=0.23)
    zero = p2.line(pn["xr"], [0, 0], line_color="black", line_width=1.5)
    for (ph, mag, err, res, rerr), col in zip(pn["pts"], COLORS):
        draw_points(p2, ph, res, rerr, col)
    leg2 = Legend(items=[LegendItem(label=pn["stat"], renderers=[zero])],
                  location=(33, h2 - 16), margin=0, padding=0, spacing=0,
                  label_height=16, glyph_height=16, glyph_width=28, label_standoff=12,
                  label_text_font=FONT, label_text_font_size="15px",
                  background_fill_alpha=0, border_line_alpha=0)
    p2.add_layout(leg2)
    p2.add_layout(Title(text="(" + pn["letter"] + ")", align="center", text_font=FONT,
                        text_font_size="20px", text_font_style="normal", standoff=cap), "below")
    return column(p1, p2, spacing=0)


cols = [make_panel(pn) for pn in PANELS]
layout = column(row(cols[0], cols[1], spacing=0), row(cols[2], cols[3], spacing=0),
                row(cols[4], cols[5], spacing=0), spacing=0)

open("out.html", "w").write(file_html(layout, INLINE))
